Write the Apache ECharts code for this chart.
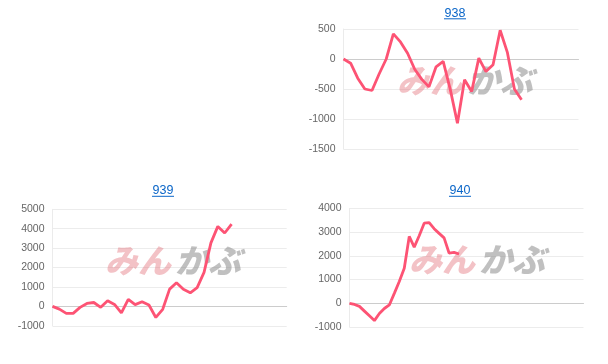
<!DOCTYPE html>
<html>
<head>
<meta charset="utf-8">
<script src="https://cdn.jsdelivr.net/npm/echarts@6/dist/echarts.min.js"></script>
<style>
html,body{margin:0;padding:0;background:#fff;}
#chart{width:608px;height:364px;}
</style>
</head>
<body>
<div id="chart"></div>
<script>
// ---- data ----
const titles = ["938", "939", "940"];
const catCount938 = 34;
const catCount939 = 35;
const catCount940 = 48;
const values938 = [0, -70, -320, -500, -525, -250, 0, 420, 285, 95, -170, -340, -465, -130, -40, -510, -1070, -345, -540, 15, -210, -95, 480, 115, -500, -680];
const values939 = [0, -140, -360, -360, -50, 150, 200, -50, 290, 100, -330, 360, 90, 240, 70, -570, -150, 890, 1220, 880, 700, 970, 1750, 3270, 4120, 3780, 4240];
const values940 = [0, -50, -130, -330, -530, -730, -430, -220, -70, 420, 920, 1480, 2820, 2370, 2850, 3380, 3400, 3150, 2950, 2760, 2120, 2150, 2080];
const yRange938 = {min: -1500, max: 500, interval: 500};
const yRange939 = {min: -1000, max: 5000, interval: 1000};
const yRange940 = {min: -1000, max: 4000, interval: 1000};

const cats = n => Array.from({length: n}, (_, i) => String(i + 1));

const LINE = '#fd5374';
const grids = [
  {left: 343.5, top: 29, width: 235, height: 120},
  {left: 52.5, top: 209.3, width: 234.2, height: 116.5},
  {left: 349.5, top: 208.5, width: 234, height: 118.5}
];
const ranges = [yRange938, yRange939, yRange940];
const series = [values938, values939, values940];
const catsList = [cats(catCount938), cats(catCount939), cats(catCount940)];
const titleX = [455, 163, 460];
const titleTop = [2, 179.5, 179.5];

const chart = echarts.init(document.getElementById('chart'), null, {renderer: 'canvas'});

const graphic = [];
const wm = [
  {x: 397, y: 64},
  {x: 105, y: 244},
  {x: 409, y: 243}
];
wm.forEach(p => {
  graphic.push({
    type: 'text', z: 1, left: p.x, top: p.y,
    style: {text: 'みん', fill: 'rgba(226,110,120,0.42)', font: 'italic 900 33px "Noto Sans CJK JP"'}
  });
  graphic.push({
    type: 'text', z: 1, left: p.x + 70, top: p.y,
    style: {text: 'かぶ', fill: 'rgba(140,140,140,0.55)', font: 'italic 900 33px "Noto Sans CJK JP"'}
  });
});
titleX.forEach((x, i) => {
  graphic.push({
    type: 'line', z: 5,
    shape: {x1: x - 11, y1: titleTop[i] + 16.8, x2: x + 11, y2: titleTop[i] + 16.8},
    style: {stroke: '#0b66c8', lineWidth: 1}
  });
});

const option = {
  animation: false,
  title: titles.map((t, i) => ({
    text: t, left: titleX[i] - 5, top: titleTop[i], textAlign: 'center',
    textStyle: {fontSize: 12.5, fontWeight: 'normal', color: '#0b66c8', fontFamily: 'Liberation Sans, Arial, sans-serif'}
  })),
  grid: grids.map(g => Object.assign({containLabel: false}, g)),
  xAxis: grids.map((g, i) => ({
    type: 'category', gridIndex: i, data: catsList[i], boundaryGap: false,
    axisLabel: {show: false}, axisTick: {show: false},
    axisLine: {show: true, onZero: true, lineStyle: {color: '#cccccc', width: 1}},
    splitLine: {show: false}
  })),
  yAxis: grids.map((g, i) => ({
    type: 'value', gridIndex: i,
    min: ranges[i].min, max: ranges[i].max, interval: ranges[i].interval,
    axisLine: {show: true, lineStyle: {color: '#ebebeb'}},
    axisTick: {show: false},
    axisLabel: {color: '#666', fontSize: 10.5, margin: 8, fontFamily: 'Liberation Sans, Arial, sans-serif',
      formatter: v => String(v)},
    splitLine: {lineStyle: {color: '#ececec'}}
  })),
  series: series.map((d, i) => ({
    type: 'line', xAxisIndex: i, yAxisIndex: i, data: d,
    showSymbol: false, symbol: 'none', z: 3,
    lineStyle: {color: LINE, width: 2.8},
    itemStyle: {color: LINE}
  })),
  graphic: graphic
};
chart.setOption(option);
</script>
</body>
</html>
